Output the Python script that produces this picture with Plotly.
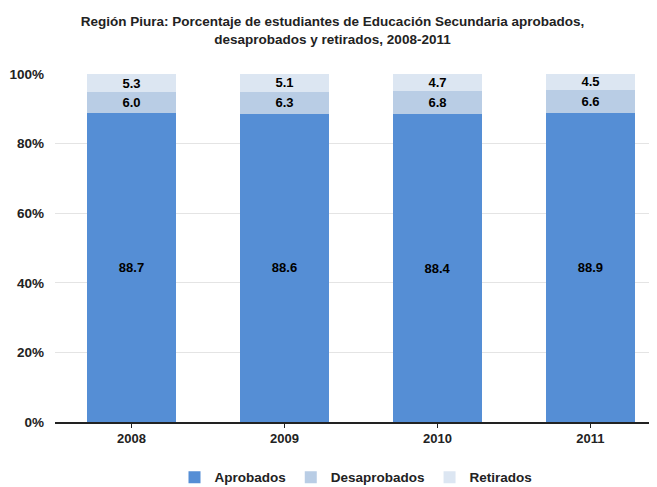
import plotly.graph_objects as go

years = ['2008', '2009', '2010', '2011']
aprobados = [88.7, 88.6, 88.4, 88.9]
desaprobados = [6.0, 6.3, 6.8, 6.6]
retirados = [5.3, 5.1, 4.7, 4.5]
y_ticks = [0, 20, 40, 60, 80, 100]

font_narrow = 'Liberation Sans Narrow, Arial Narrow, Liberation Sans, Arial'

series = [
    ('Aprobados', aprobados, '#558ED5'),
    ('Desaprobados', desaprobados, '#B9CDE5'),
    ('Retirados', retirados, '#DCE6F2'),
]

fig = go.Figure()
for name, vals, color in series:
    fig.add_trace(go.Bar(
        x=years,
        y=vals,
        name=name,
        marker=dict(color=color, line=dict(width=0)),
        text=[f'{v:.1f}' for v in vals],
        textposition='inside',
        insidetextanchor='middle',
        constraintext='none',
        textfont=dict(family=font_narrow, size=13, color='black', weight='bold'),
        hoverinfo='skip',
    ))

# page body has an 8px margin, so the figure is drawn 8px smaller
fig.update_layout(
    barmode='stack',
    bargap=0.42,
    width=649,
    height=479,
    margin=dict(l=47, r=0, t=66, b=65),
    plot_bgcolor='white',
    paper_bgcolor='white',
    font=dict(family=font_narrow, size=13, color='black', weight='bold'),
    title=dict(
        text='Región Piura: Porcentaje de estudiantes de Educación Secundaria aprobados,<br>desaprobados y retirados, 2008-2011',
        x=0.5, xanchor='center',
        yref='container', y=0.962, yanchor='middle',
        font=dict(family=font_narrow, size=13.5, color='#222222', weight='bold'),
    ),
    legend=dict(
        orientation='h',
        x=0.5, xanchor='center',
        yref='container', y=0.02, yanchor='middle',
        font=dict(family=font_narrow, size=13.5, color='#222222', weight='bold'),
        itemwidth=30,
        traceorder='normal',
    ),
)

fig.update_xaxes(
    range=[-0.5, 3.435],
    showline=True, linecolor='#222222', linewidth=1.5,
    ticks='outside', ticklen=4, tickcolor='#222222',
    showgrid=False,
    tickfont=dict(family=font_narrow, size=13, color='#222222', weight='bold'),
)
fig.update_yaxes(
    range=[0, 100],
    tickvals=y_ticks,
    ticktext=[f'{t}%' for t in y_ticks],
    showgrid=True, gridcolor='#E4E4E4', gridwidth=1,
    showline=False, zeroline=False,
    ticks='', ticklabelstandoff=10,
    tickfont=dict(family=font_narrow, size=13.5, color='#222222', weight='bold'),
)

fig.write_html('out.html')
